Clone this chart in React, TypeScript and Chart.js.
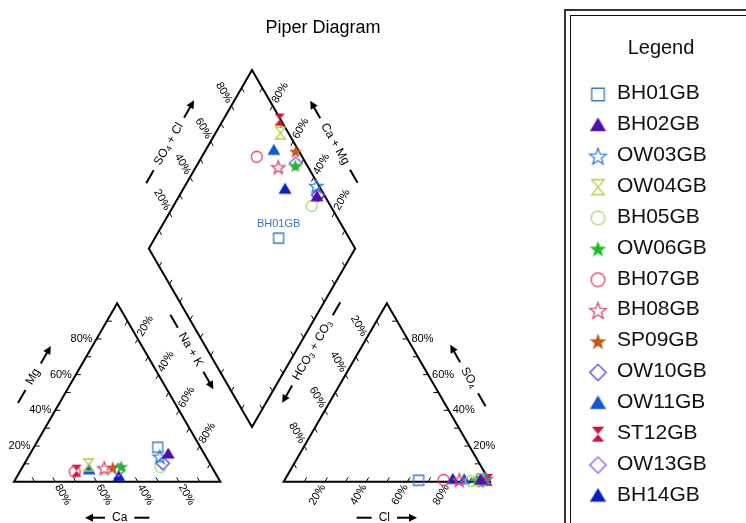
import React, { useEffect, useRef } from 'react';
import { Chart, registerables } from 'chart.js';

Chart.register(...registerables);

// ---------- data ----------
const sampleNames = ['BH01GB', 'BH02GB', 'OW03GB', 'OW04GB', 'BH05GB', 'OW06GB', 'BH07GB', 'BH08GB', 'SP09GB', 'OW10GB', 'OW11GB', 'ST12GB', 'OW13GB', 'BH14GB'];
// cations (% meq)
const caPct = [20.7, 17.5, 22.4, 59.2, 24.9, 43.8, 67.8, 52.5, 48.2, 22.7, 60.3, 66.6, 46.1, 47.8];
const mgPct = [19.3, 15.5, 14.0, 9.4, 8.1, 8.4, 5.6, 7.5, 7.9, 10.3, 6.6, 6.2, 6.6, 2.8];
const naKPct = [60.0, 67.0, 63.6, 31.4, 67.0, 47.8, 26.6, 40.0, 43.9, 67.0, 33.1, 27.2, 47.3, 49.4];
// anions (% meq)
const hco3Pct = [34.2, 4.0, 1.4, 3.8, 9.2, 5.8, 22.0, 14.5, 1.7, 3.0, 11.9, 0.5, 5.0, 17.4];
const so4Pct = [0.8, 1.0, 1.5, 1.0, 0.3, 0.8, 1.0, 0.8, 1.0, 0.8, 1.2, 1.0, 0.8, 1.3];
const clPct = [65.0, 95.0, 97.1, 95.2, 90.5, 93.4, 77.0, 84.7, 97.3, 96.2, 86.9, 98.5, 94.2, 81.3];

const sampleColors = ['#3878c8', '#4c10b0', '#2a7ce8', '#b0d040', '#a0d870', '#18c020', '#e03860', '#e0406a', '#c85818', '#5040e0', '#1058d0', '#d01040', '#9050e8', '#0820c0'];
const sampleShapes = ['square', 'triangle', 'starOpen', 'hourglassOpen', 'circle', 'star', 'circle', 'starOpen', 'star', 'diamond', 'triangle', 'hourglass', 'diamond', 'triangle'];

const tickValues = [10, 20, 30, 40, 50, 60, 70, 80, 90];
const labelValues = [20, 40, 60, 80];
const labeledSample = 'BH01GB';

const chartTitle = 'Piper Diagram';
const legendTitle = 'Legend';

// ---------- geometry (diagram units: triangle side = 100) ----------
const H = Math.sqrt(3) / 2;
const SIDE = 100;
const GAP = 30.7;
const RX0 = SIDE + GAP;
const DB = { x: SIDE + GAP / 2, y: GAP * H };

function cationXY(i: number) {
  const t = caPct[i] + mgPct[i] + naKPct[i];
  const m = (mgPct[i] / t) * 100;
  const n = (naKPct[i] / t) * 100;
  return { x: n + m / 2, y: m * H };
}
function anionXY(i: number) {
  const t = hco3Pct[i] + so4Pct[i] + clPct[i];
  const s = (so4Pct[i] / t) * 100;
  const c = (clPct[i] / t) * 100;
  return { x: RX0 + c + s / 2, y: s * H };
}
function diamondXY(i: number) {
  const tc = caPct[i] + mgPct[i] + naKPct[i];
  const ta = hco3Pct[i] + so4Pct[i] + clPct[i];
  const n = (naKPct[i] / tc) * 100;
  const h = (hco3Pct[i] / ta) * 100;
  return { x: DB.x + 0.5 * (n - h), y: H * (GAP + 200 - n - h) };
}

function makeMarker(shape: string, color: string, f: number) {
  const S = Math.round(18 * f);
  const c = document.createElement('canvas');
  c.width = S;
  c.height = S;
  const g = c.getContext('2d')!;
  const m = S / 2;
  g.strokeStyle = color;
  g.fillStyle = color;
  g.lineWidth = 1.3;
  g.beginPath();
  if (shape === 'square') {
    g.rect(m - 5 * f, m - 5 * f, 10 * f, 10 * f);
    g.stroke();
  } else if (shape === 'triangle') {
    g.moveTo(m, m - 6.5 * f);
    g.lineTo(m + 6.5 * f, m + 4.5 * f);
    g.lineTo(m - 6.5 * f, m + 4.5 * f);
    g.closePath();
    g.fill();
  } else if (shape === 'star' || shape === 'starOpen') {
    for (let k = 0; k < 10; k++) {
      const r = (k % 2 === 0 ? 7 : 2.9) * f;
      const a = -Math.PI / 2 + (k * Math.PI) / 5;
      const px = m + r * Math.cos(a);
      const py = m + 0.5 * f + r * Math.sin(a);
      if (k === 0) g.moveTo(px, py);
      else g.lineTo(px, py);
    }
    g.closePath();
    if (shape === 'star') g.fill();
    else g.stroke();
  } else if (shape === 'hourglass' || shape === 'hourglassOpen') {
    g.moveTo(m - 5 * f, m - 6 * f);
    g.lineTo(m + 5 * f, m - 6 * f);
    g.lineTo(m - 5 * f, m + 6 * f);
    g.lineTo(m + 5 * f, m + 6 * f);
    g.closePath();
    if (shape === 'hourglass') g.fill();
    else g.stroke();
  } else if (shape === 'circle') {
    g.arc(m, m, 5.5 * f, 0, Math.PI * 2);
    g.stroke();
  } else if (shape === 'diamond') {
    g.moveTo(m, m - 6.5 * f);
    g.lineTo(m + 6.5 * f, m);
    g.lineTo(m, m + 6.5 * f);
    g.lineTo(m - 6.5 * f, m);
    g.closePath();
    g.stroke();
  }
  return c;
}

type Seg = [string, boolean];

function drawRich(ctx: CanvasRenderingContext2D, segs: Seg[], x0: number) {
  let x = x0;
  for (const [t, sub] of segs) {
    ctx.font = sub ? '8px "Liberation Sans", Arial, sans-serif' : '12px "Liberation Sans", Arial, sans-serif';
    ctx.fillText(t, x, sub ? 3 : 0);
    x += ctx.measureText(t).width;
  }
}
function richWidth(ctx: CanvasRenderingContext2D, segs: Seg[]) {
  let w = 0;
  for (const [t, sub] of segs) {
    ctx.font = sub ? '8px "Liberation Sans", Arial, sans-serif' : '12px "Liberation Sans", Arial, sans-serif';
    w += ctx.measureText(t).width;
  }
  return w;
}

function drawTitleGroup(ctx: CanvasRenderingContext2D, cx: number, cy: number, angle: number, segs: Seg[], arrowAt: 'start' | 'end') {
  const dash = 15, arrow = 20, gap = 7;
  ctx.save();
  ctx.translate(cx, cy);
  ctx.rotate(angle);
  ctx.fillStyle = '#000';
  ctx.strokeStyle = '#000';
  ctx.lineWidth = 2;
  ctx.textBaseline = 'middle';
  ctx.textAlign = 'left';
  const w = richWidth(ctx, segs);
  const total = dash + gap + w + gap + arrow;
  const x0 = -total / 2;
  const drawArrow = (from: number, to: number) => {
    const dir = Math.sign(to - from);
    ctx.beginPath();
    ctx.moveTo(from, 0);
    ctx.lineTo(to - dir * 6, 0);
    ctx.stroke();
    ctx.beginPath();
    ctx.moveTo(to, 0);
    ctx.lineTo(to - dir * 8, -4);
    ctx.lineTo(to - dir * 8, 4);
    ctx.closePath();
    ctx.fill();
  };
  if (arrowAt === 'end') {
    ctx.beginPath();
    ctx.moveTo(x0, 0);
    ctx.lineTo(x0 + dash, 0);
    ctx.stroke();
    drawRich(ctx, segs, x0 + dash + gap);
    drawArrow(x0 + dash + gap + w + gap, x0 + total);
  } else {
    drawArrow(x0 + arrow, x0);
    drawRich(ctx, segs, x0 + arrow + gap);
    ctx.beginPath();
    ctx.moveTo(x0 + arrow + gap + w + gap, 0);
    ctx.lineTo(x0 + total, 0);
    ctx.stroke();
  }
  ctx.restore();
}

const markerCache: Record<string, HTMLCanvasElement> = {};
function markerFor(i: number, f = 1) {
  const key = sampleShapes[i] + sampleColors[i] + f;
  if (!markerCache[key]) markerCache[key] = makeMarker(sampleShapes[i], sampleColors[i], f);
  return markerCache[key];
}

const piperPlugin = {
  id: 'piperFrame',
  beforeDatasetsDraw(chart: any) {
    const ctx: CanvasRenderingContext2D = chart.ctx;
    const xs = chart.scales.x, ys = chart.scales.y;
    const P = (p: { x: number; y: number }) => ({ x: xs.getPixelForValue(p.x), y: ys.getPixelForValue(p.y) });
    const k = xs.getPixelForValue(1) - xs.getPixelForValue(0);

    const L0 = { x: 0, y: 0 }, L1 = { x: SIDE, y: 0 }, L2 = { x: SIDE / 2, y: SIDE * H };
    const R0 = { x: RX0, y: 0 }, R1 = { x: RX0 + SIDE, y: 0 }, R2 = { x: RX0 + SIDE / 2, y: SIDE * H };
    const Dl = { x: DB.x - 50, y: DB.y + 100 * H }, Dr = { x: DB.x + 50, y: DB.y + 100 * H }, Dt = { x: DB.x, y: DB.y + 200 * H };

    ctx.save();
    ctx.strokeStyle = '#000';
    ctx.lineWidth = 2;
    ctx.lineJoin = 'miter';
    const poly = (pts: { x: number; y: number }[]) => {
      ctx.beginPath();
      pts.forEach((p, idx) => {
        const q = P(p);
        if (idx === 0) ctx.moveTo(q.x, q.y);
        else ctx.lineTo(q.x, q.y);
      });
      ctx.closePath();
      ctx.stroke();
    };
    poly([L0, L1, L2]);
    poly([R0, R1, R2]);
    poly([DB, Dr, Dt, Dl]);

    const sides: any[] = [
      { pt: (v: number) => ({ x: v / 2, y: v * H }), tick: { x: 1, y: 0 }, label: { dir: [-1, 0], angle: 0, align: 'right' } },
      { pt: (v: number) => ({ x: 100 - v, y: 0 }), tick: { x: -0.5, y: H }, label: { dir: [0.5, H], angle: Math.PI / 3, align: 'left' } },
      { pt: (v: number) => ({ x: v + (100 - v) / 2, y: (100 - v) * H }), tick: { x: -0.5, y: -H }, label: { dir: [0.5, -H], angle: -Math.PI / 3, align: 'left' } },
      { pt: (v: number) => ({ x: RX0 + v, y: 0 }), tick: { x: 0.5, y: H }, label: { dir: [-0.5, H], angle: -Math.PI / 3, align: 'right' } },
      { pt: (v: number) => ({ x: RX0 + (100 - v) + v / 2, y: v * H }), tick: { x: -1, y: 0 }, label: { dir: [1, 0], angle: 0, align: 'left' } },
      { pt: (v: number) => ({ x: RX0 + (100 - v) / 2, y: (100 - v) * H }), tick: { x: 0.5, y: -H }, label: { dir: [-0.5, -H], angle: Math.PI / 3, align: 'right' } },
      { pt: (v: number) => ({ x: Dl.x + v * 0.5, y: Dl.y + v * H }), tick: { x: 0.5, y: -H }, label: { dir: [-0.5, -H], angle: Math.PI / 3, align: 'right' } },
      { pt: (v: number) => ({ x: Dr.x - v * 0.5, y: Dr.y + v * H }), tick: { x: -0.5, y: -H }, label: { dir: [0.5, -H], angle: -Math.PI / 3, align: 'left' } },
      { pt: (v: number) => ({ x: DB.x - v * 0.5, y: DB.y + v * H }), tick: { x: 0.5, y: H }, label: null },
      { pt: (v: number) => ({ x: DB.x + v * 0.5, y: DB.y + v * H }), tick: { x: -0.5, y: H }, label: null },
    ];
    const tickLen = 5 / k;
    const gap = 4;
    ctx.lineWidth = 1;
    for (const sd of sides) {
      for (const v of tickValues) {
        const p = sd.pt(v);
        const a = P(p);
        const b = P({ x: p.x + sd.tick.x * tickLen, y: p.y + sd.tick.y * tickLen });
        ctx.beginPath();
        ctx.moveTo(a.x, a.y);
        ctx.lineTo(b.x, b.y);
        ctx.stroke();
      }
      if (sd.label) {
        ctx.fillStyle = '#000';
        ctx.font = '11px "Liberation Sans", Arial, sans-serif';
        ctx.textBaseline = 'middle';
        for (const v of labelValues) {
          const a = P(sd.pt(v));
          ctx.save();
          ctx.translate(a.x + sd.label.dir[0] * gap, a.y + sd.label.dir[1] * gap);
          ctx.rotate(sd.label.angle);
          ctx.textAlign = sd.label.align;
          ctx.fillText(v + '%', 0, 0);
          ctx.restore();
        }
      }
    }

    // axis titles
    const mid = (a: any, b: any) => {
      const p = P(a), q = P(b);
      return { x: (p.x + q.x) / 2, y: (p.y + q.y) / 2 };
    };
    const off = (p: any, d: number[], s: number) => ({ x: p.x + d[0] * s, y: p.y + d[1] * s });
    const c60 = 0.5, s60 = H;
    let c = off(mid(L0, L2), [-s60, -c60], 36);
    drawTitleGroup(ctx, c.x, c.y, -Math.PI / 3, [['Mg', false]], 'end');
    c = off(mid(L0, L1), [0, 1], 36);
    drawTitleGroup(ctx, c.x, c.y, 0, [['Ca', false]], 'start');
    c = off(off(mid(Dl, DB), [c60, s60], 8), [-s60, c60], 14.5);
    drawTitleGroup(ctx, c.x, c.y, Math.PI / 3, [['Na + K', false]], 'end');
    c = off(off(mid(Dr, DB), [-c60, s60], 9), [s60, c60], 14);
    drawTitleGroup(ctx, c.x, c.y, -Math.PI / 3, [['HCO', false], ['3', true], [' + CO', false], ['3', true]], 'start');
    c = off(mid(R0, R1), [0, 1], 36);
    drawTitleGroup(ctx, c.x, c.y, 0, [['Cl', false]], 'end');
    c = off(mid(R1, R2), [s60, -c60], 34);
    drawTitleGroup(ctx, c.x, c.y, Math.PI / 3, [['SO', false], ['4', true]], 'start');
    c = off(mid(Dl, Dt), [-s60, -c60], 35);
    drawTitleGroup(ctx, c.x, c.y, -Math.PI / 3, [['SO', false], ['4', true], [' + Cl', false]], 'end');
    c = off(mid(Dr, Dt), [s60, -c60], 35);
    drawTitleGroup(ctx, c.x, c.y, Math.PI / 3, [['Ca + Mg', false]], 'start');
    ctx.restore();
  },
  afterDraw(chart: any) {
    const ctx: CanvasRenderingContext2D = chart.ctx;
    ctx.save();
    // chart title
    ctx.fillStyle = '#000';
    ctx.font = '18px "Liberation Sans", Arial, sans-serif';
    ctx.textAlign = 'center';
    ctx.textBaseline = 'alphabetic';
    ctx.fillText(chartTitle, 323, 33);

    // data label
    const li = sampleNames.indexOf(labeledSample);
    const pt = chart.getDatasetMeta(li).data[2];
    ctx.fillStyle = sampleColors[li];
    ctx.font = '11px "Liberation Sans", Arial, sans-serif';
    ctx.textBaseline = 'middle';
    ctx.fillText(labeledSample, pt.x, pt.y - 14.5);

    // legend box
    ctx.strokeStyle = '#333';
    ctx.lineWidth = 2;
    ctx.strokeRect(565, 10, 300, 600);
    ctx.lineWidth = 1;
    ctx.strokeStyle = '#111';
    ctx.strokeRect(570.5, 15.5, 300, 600);
    ctx.fillStyle = '#111';
    ctx.font = '20px "Liberation Sans", Arial, sans-serif';
    ctx.textAlign = 'center';
    ctx.textBaseline = 'alphabetic';
    ctx.fillText(legendTitle, 661, 54);
    ctx.font = '21px "Liberation Sans", Arial, sans-serif';
    ctx.textAlign = 'left';
    ctx.textBaseline = 'middle';
    sampleNames.forEach((name, i) => {
      const y = 92.5 + i * 30.88;
      const img = markerFor(i, 1.25);
      ctx.drawImage(img, 598 - img.width / 2, y + 2 - img.height / 2);
      ctx.fillStyle = '#111';
      ctx.fillText(name, 617, y + 1);
    });
    ctx.restore();
  },
};

export default function App() {
  const ref = useRef<HTMLCanvasElement | null>(null);
  useEffect(() => {
    document.body.style.margin = '0';
    const canvas = ref.current!;
    const datasets = sampleNames.map((name, i) => ({
      label: name,
      data: [cationXY(i), anionXY(i), diamondXY(i)],
      pointStyle: markerFor(i) as any,
      pointRadius: 6,
      borderColor: sampleColors[i],
      backgroundColor: sampleColors[i],
      clip: false as any,
      showLine: false,
    }));
    const chart = new Chart(canvas, {
      type: 'scatter',
      data: { datasets },
      options: {
        animation: false,
        responsive: false,
        maintainAspectRatio: false,
        events: [],
        layout: { padding: { left: 14, right: 256, top: 70.1, bottom: 41.3 } },
        scales: {
          x: { type: 'linear', min: 0, max: 2 * SIDE + GAP, display: false },
          y: { type: 'linear', min: 0, max: DB.y + 200 * H, display: false },
        },
        plugins: { legend: { display: false }, tooltip: { enabled: false }, title: { display: false } },
      },
      plugins: [piperPlugin as any],
    });
    return () => chart.destroy();
  }, []);
  return (
    <div style={{ position: 'absolute', left: 0, top: 0, width: 746, height: 523, background: '#fff' }}>
      <canvas ref={ref} width={746} height={523} style={{ display: 'block' }} />
    </div>
  );
}
